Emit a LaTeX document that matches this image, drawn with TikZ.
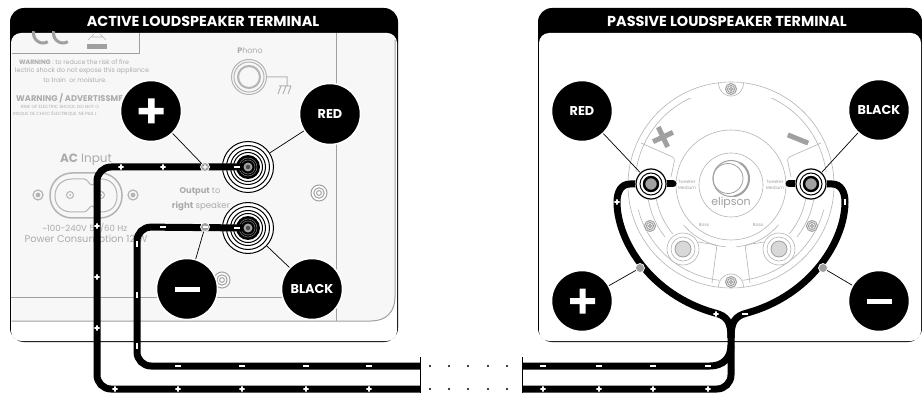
\documentclass[tikz,border=0pt]{standalone}
\usepackage{fontspec}
\setmainfont{Poppins}
\definecolor{gl}{HTML}{B4B4B4}
\definecolor{gm}{HTML}{A0A0A0}
\definecolor{gt}{HTML}{ABABAB}
\definecolor{gf}{HTML}{D8D8D8}
\definecolor{pan}{HTML}{F7F7F7}
\tikzset{
  bubble/.style={circle,fill=black,draw=white,line width=1.5pt,minimum size=61pt,inner sep=0pt,text=white,font=\bfseries\fontsize{12.8}{14}\selectfont},
  cable/.style={draw=black,line width=7pt,line cap=butt,rounded corners=14pt},
  cablef/.style={draw=black,line width=7pt,line cap=butt},
  leader/.style={draw=black,line width=0.7pt},
  grline/.style={draw=gm,line width=1pt},
  fine/.style={draw=gl,line width=0.6pt},
  dotnode/.style={circle,fill=gm,draw=white,line width=0.7pt,minimum size=9pt,inner sep=0pt},
  gtext/.style={text=gt,inner sep=0pt,anchor=center},
  htext/.style={text=white,font=\bfseries\fontsize{14.4}{16}\selectfont,inner sep=0pt},
  anchorpt/.style={circle,minimum size=#1,inner sep=0pt},
}
\newcommand{\mkplus}[2]{\fill[white] (#1-2.6,#2-0.8) rectangle (#1+2.6,#2+0.8) (#1-0.8,#2-2.6) rectangle (#1+0.8,#2+2.6);}
\newcommand{\mkminus}[2]{\fill[white] (#1-2.6,#2-0.9) rectangle (#1+2.6,#2+0.9);}
\newcommand{\mkminusv}[2]{\fill[white] (#1-0.9,#2-2.6) rectangle (#1+0.9,#2+2.6);}
\newcommand{\bigterm}[2]{
  \fill[white] (#1,#2) circle[radius=26pt];
  \foreach \r/\w in {25.5/1,21.5/1,17.5/1,14.5/1}{\draw[black,line width=\w pt] (#1,#2) circle[radius=\r pt];}
  \fill[black] (#1,#2) circle[radius=12pt];
  \draw[gray,line width=0.5pt] (#1,#2) circle[radius=9pt] (#1,#2) circle[radius=7pt];
}
\newcommand{\smallterm}[2]{
  \fill[white] (#1,#2) circle[radius=16pt];
  \draw[black,line width=1.2pt] (#1,#2) circle[radius=15pt];
  \draw[black,line width=1pt] (#1,#2) circle[radius=11pt];
  \draw[black,line width=2.4pt,fill=gm] (#1,#2) circle[radius=7pt];
}
\newcommand{\ringarc}[3]{\draw[fine] plot[domain=#1:#2,samples=40,smooth] (\x:#3);}
\newcommand{\ringscrew}[3]{\draw[gm,line width=1pt,fill=white] (#1,#2) circle[radius=#3 pt] (#1,#2) circle[radius=0.65*#3 pt] (#1,#2) circle[radius=0.3*#3 pt];}
\begin{document}
\begin{tikzpicture}[x=1pt,y=-1pt]
\useasboundingbox (0,0) rectangle (922,393);
\fill[white] (0,0) rectangle (922,393);
% ---------- left panel
\fill[black,rounded corners=14pt] (10,8) rectangle (398,342);
\fill[white,rounded corners=10pt] (11,33) rectangle (397,341);
\node[htext] (hleft) at (203,21) {ACTIVE LOUDSPEAKER TERMINAL};
\fill[pan,draw=none] (11.5,43) .. controls (11.5,37) and (15,33.5) .. (21,33.5) -- (388,33.5) .. controls (392,33.5) and (395,36) .. (395,40) -- (395,297) .. controls (395,312) and (386,321) .. (371,321) -- (11.5,321) -- cycle;
\draw[gm,line width=1pt] (395,40) -- (395,297) .. controls (395,312) and (386,321) .. (371,321) -- (11.5,321);
% CE box
\draw[grline] (12,54) -- (139,54) -- (139,33.5);
\draw[gm,line width=3pt] plot[domain=60:190,samples=14,smooth] ({43+9.5*cos(\x)},{33+10*sin(\x)});
\draw[gm,line width=3pt] plot[domain=60:190,samples=14,smooth] ({63+9.5*cos(\x)},{33+10*sin(\x)});
\fill[gm] (87,44) rectangle (107,49);
\draw[gl,line width=0.6pt] (88,40) -- (94,34) (106,40) -- (100,34) (92,37) -- (102,37);
% lines
\draw[grline] (336,33.5) -- (336,321);
\draw[grline] (11,297) -- (340,297);
% warning text
\node[gtext,font=\fontsize{6.3}{8}\selectfont] (w1) at (74,62) {\textbf{WARNING} : to reduce the risk of fire};
\node[gtext,font=\fontsize{6.4}{8}\selectfont] (w2) at (82,71) {lectric shock do not expose this appliance};
\node[gtext,font=\fontsize{6.3}{8}\selectfont] (w3) at (75,80) {to train\ \ or moisture.};
\node[gtext,font=\bfseries\fontsize{8.3}{10}\selectfont,anchor=west] (w4) at (16,98) {WARNING / ADVERTISSMF};
\node[gtext,font=\fontsize{4.5}{6}\selectfont,anchor=west] (w5) at (21,107) {RISK OF ELECTRIC SHOCK. DO NOT O};
\node[gtext,font=\fontsize{4.5}{6}\selectfont,anchor=west] (w6) at (13,114) {RISQUE DE CHOC ÉLECTRIQUE. NE PAS L};
\node[gtext,font=\fontsize{12}{14}\selectfont] (ac) at (86,160) {\textbf{AC} Input};
\node[gtext,font=\fontsize{8.6}{10}\selectfont] (v) at (85,228) {\textasciitilde100-240V 50/60 Hz};
\node[gtext,font=\fontsize{9.8}{11}\selectfont] (pw) at (86,240) {Power Consumption 12 W};
\node[gtext,font=\fontsize{8}{10}\selectfont] (ph) at (250,51) {\textbf{P}hono};
\node[gtext,font=\fontsize{8.3}{10}\selectfont] (o1) at (200,192) {\textbf{Output} to};
\node[gtext,font=\fontsize{8.6}{10}\selectfont] (o2) at (201,206) {\textbf{right} speaker};
% AC inlet
\draw[gl,line width=1.5pt,rounded corners=22pt] (50,173) -- (122,173) -- (122,218) -- (50,218) -- cycle;
\draw[gl,line width=1pt] (72,179) -- (84,179) .. controls (88,179) and (89,185) .. (92,185) .. controls (95,185) and (96,179) .. (100,179) -- (101,179) .. controls (111,179) and (117,186) .. (117,196) .. controls (117,206) and (111,212) .. (101,212) -- (100,212) .. controls (96,212) and (95,206) .. (92,206) .. controls (89,206) and (88,212) .. (84,212) -- (72,212) .. controls (62,212) and (55,206) .. (55,196) .. controls (55,186) and (62,179) .. (72,179) -- cycle;
\draw[gl,line width=1pt] (70,195) circle[radius=3.5pt] (101,195) circle[radius=3.5pt];
\fill[gl] (70,195) circle[radius=1pt] (101,195) circle[radius=1pt];
\draw[gl,line width=1.2pt] (38,195) circle[radius=5pt] (133,195) circle[radius=5pt];
\fill[gl] (38,195) circle[radius=2.4pt] (133,195) circle[radius=2.4pt];
% phono
\draw[gl,line width=1pt] (249,77) circle[radius=17.5pt] (249,77) circle[radius=15pt];
\draw[gl,line width=2pt] (249,77) circle[radius=11pt];
\draw[gl,line width=1pt] (267,77) -- (287,77) -- (287,86) (279,86) -- (291,86) (281,86) -- (278,94) (286,86) -- (283,94) (291,86) -- (288,94);
\ringscrew{319}{193}{8}
\ringscrew{222}{280}{8}
% ---------- right panel
\fill[black,rounded corners=14pt] (538,8) rectangle (922,342);
\fill[white,rounded corners=10pt] (539,33) rectangle (921,341);
\node[htext] (hright) at (727,21) {PASSIVE LOUDSPEAKER TERMINAL};
% speaker
\begin{scope}[shift={(731,185)}]
  \foreach \r in {32,55}{\draw[fine] (0,0) circle[radius=\r pt];}
  \draw[fine] (0,0) circle[radius=103pt];
  \ringarc{97}{165}{96}
  \ringarc{15}{83}{96}
  \ringarc{-172}{-115}{96}
  \ringarc{-65}{-8}{96}
  \ringarc{95}{140}{62}
  \ringarc{40}{85}{62}
  \ringarc{142}{172}{84}
  \ringarc{8}{38}{84}
  \ringarc{140}{170}{76}
  \ringarc{10}{40}{76}
  \draw[fine,rounded corners=3pt] (-90,-42) -- (-56,-27) -- (-60,-8);
  \draw[fine,rounded corners=3pt] (90,-42) -- (56,-27) -- (60,-8);
  \draw[fine,rounded corners=3pt] (-33,57) -- (-14,60) -- (-19,98);
  \draw[fine,rounded corners=3pt] (33,57) -- (14,60) -- (19,98);
  % half collars and small screws
  \draw[fine,fill=white] plot[domain=180:360,samples=20,smooth] ({12.5*cos(\x)},{102+13*sin(\x)});
  \draw[fine,fill=white] plot[domain=0:180,samples=20,smooth] ({12.5*cos(\x)},{-102+13*sin(\x)});
  \ringscrew{0}{-96}{5.5}
  \ringscrew{0}{97}{5.5}
  \ringscrew{-81}{41}{5.5}
  \ringscrew{81}{41}{5.5}
\end{scope}
\foreach \px in {683,779}{
  \draw[fine,fill=white] (\px,249) circle[radius=16pt];
  \draw[fine] (\px,249) circle[radius=12pt];
  \draw[gm,line width=0.8pt,fill=gf] (\px,249) circle[radius=8pt];
}
\fill[gm,rotate around={25:(663,137)}] (652,134.5) rectangle (674,139.5) (660.5,126) rectangle (665.5,148);
\fill[gm,rotate around={-22:(798,139)}] (787,136.5) rectangle (809,141.5);
% logo
\draw[gm,line width=1pt] (731,178.5) circle[radius=18pt];
\draw[gm,line width=0.8pt] (728,178.5) circle[radius=15pt];
\draw[gm,line width=2pt] plot[domain=-60:80,samples=20,smooth] ({731+18*cos(\x)},{178.5+18*sin(\x)});
\node[gtext,text=gm,font=\fontsize{11}{13}\selectfont] (logo) at (731,203) {elipson};
\node[gtext,text=gm,font=\fontsize{4.4}{5.5}\selectfont,align=left] (tm1) at (687,185) {Tweeter\\Medium};
\node[gtext,text=gm,font=\fontsize{4.4}{5.5}\selectfont,align=left] (tm2) at (775,185) {Tweeter\\Medium};
\node[gtext,text=gm,font=\fontsize{4.4}{5.5}\selectfont] (b1) at (704,225) {Bass};
\node[gtext,text=gm,font=\fontsize{4.4}{5.5}\selectfont] (b2) at (758,225) {Bass};
% ---------- terminals
\node[anchorpt=52pt] (tA) at (248,167) {};
\node[anchorpt=52pt] (tB) at (248,228) {};
\bigterm{248}{167}
\bigterm{248}{228}
\node[anchorpt=32pt] (tC) at (651,184) {};
\node[anchorpt=32pt] (tD) at (811,184) {};
% break coordinates
\coordinate (p1) at (97,167);
\coordinate (p2) at (97,389);
\coordinate (p3) at (420,389);
\coordinate (m1) at (137,227);
\coordinate (m2) at (137,366);
\coordinate (m3) at (420,366);
\coordinate (q0) at (522,389);
\coordinate (q1) at (731,389);
\coordinate (q2) at (731,325);
\coordinate (n0) at (522,366);
\coordinate (n1) at (710,366);
% ---------- cables
\draw[cable] (tA.center) -- (p1) -- (p2) -- (p3);
\draw[cable] (tB.center) -- (m1) -- (m2) -- (m3);
\draw[cable] (q0) -- (q1) -- (q2);
\draw[cablef] (n0) -- (n1) .. controls (723,366) and (731,358) .. (731,345);
\draw[cablef] (tC.center) -- (630,184) .. controls (621,184) and (617,192) .. (617,202)
   .. controls (617,240) and (650,295) .. (715,313) .. controls (727,316) and (731,322) .. (731,338);
\draw[cablef] (tD.center) -- (832,184) .. controls (841,184) and (845,192) .. (845,202)
   .. controls (845,240) and (812,295) .. (747,313) .. controls (735,316) and (731,322) .. (731,338);
\draw[cablef,line cap=round] (tC.center) -- (673,184);
\draw[cablef,line cap=round] (tD.center) -- (789,184);
\smallterm{651}{184}
\smallterm{811}{184}
\fill[gm] (248,167) circle[radius=4.5pt] (248,228) circle[radius=4.5pt];
\fill[black!70] (248,167) circle[radius=2.2pt] (248,228) circle[radius=2.2pt];
% break
\draw[black,line width=1pt] (420,357) -- (420,393) (522,357) -- (522,393);
\foreach \dx in {430,449,468,488,507}{\fill[black] (\dx,366) circle[radius=1.2pt] (\dx,389) circle[radius=1.2pt];}
% marks
\foreach \a in {121,163}{\mkplus{\a}{167}}
\foreach \a in {226,277,328}{\mkplus{97}{\a}}
\foreach \a in {115,178,242,306,369,543,599,653,708}{\mkplus{\a}{389}}
\mkminus{163}{227}
\foreach \a in {244,295,346}{\mkminusv{137}{\a}}
\foreach \a in {178,242,306,369,543,599,653,708}{\mkminus{\a}{366}}
\mkminus{237}{167}
\mkminus{237}{228}
\mkplus{617}{202}
\mkminusv{845}{202}
\mkplus{716}{314}
\mkminus{745}{314}
% ---------- dots
\node[dotnode] (dA) at (205,167) {};
\node[dotnode] (dB) at (205,227) {};
\node[dotnode] (dC) at (640,268) {};
\node[dotnode] (dD) at (823,268) {};
\fill[white] (202.5,166.4) rectangle (207.5,167.6) (204.4,164.5) rectangle (205.6,169.5);
\fill[white] (202.5,226.3) rectangle (207.5,227.7);
% ---------- bubbles
\node[bubble] (plusL) at (151,111) {};
\node[bubble] (redL) at (330,114) {RED};
\node[bubble] (minusL) at (187,289) {};
\node[bubble] (blackL) at (312,289) {BLACK};
\node[bubble] (redR) at (582,111) {RED};
\node[bubble] (blackR) at (879,110) {BLACK};
\node[bubble] (plusR) at (582,301) {};
\node[bubble] (minusR) at (879,301) {};
\fill[white] (138.5,108) rectangle (163.5,114.5) (148,98.5) rectangle (154.5,123.5);
\fill[white] (174.5,286.5) rectangle (199.5,291.5);
\fill[white] (570,298) rectangle (595,304) (579.5,288.5) rectangle (585.5,313.5);
\fill[white] (866.5,298.5) rectangle (891.5,303.5);
% ---------- leaders
\draw[leader] (plusL) -- (dA);
\draw[leader] (redL) -- (tA);
\draw[leader] (minusL) -- (dB);
\draw[leader] (blackL) -- (tB);
\draw[leader] (redR) -- (tC);
\draw[leader] (blackR) -- (tD);
\draw[leader] (plusR) -- (dC);
\draw[leader] (minusR) -- (dD);
\end{tikzpicture}
\end{document}
